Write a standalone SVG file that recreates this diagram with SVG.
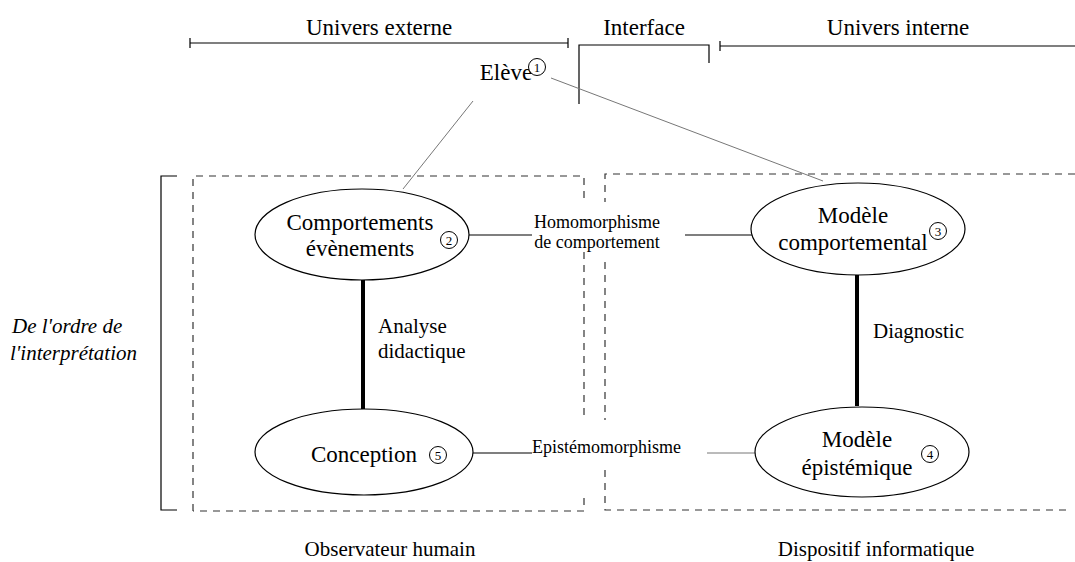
<svg xmlns="http://www.w3.org/2000/svg" width="1075" height="562" viewBox="0 0 1075 562">
<style>
text{font-family:"Liberation Serif","Times New Roman",serif;fill:#000}
.h{font-size:23px;text-anchor:middle}
.n{font-size:23px;text-anchor:middle}
.lab{font-size:18px}
.bot{font-size:21px;text-anchor:middle}
.ax{font-size:21px}
.num{font-size:13px;text-anchor:middle}
.ell{fill:#fff;stroke:#000;stroke-width:1.2}
.nc{fill:#fff;stroke:#000;stroke-width:1}
.dash{fill:none;stroke:#333;stroke-width:1.2;stroke-dasharray:7,6}
.thin{stroke:#000;stroke-width:1.2;fill:none}
.gray{stroke:#777;stroke-width:1;fill:none}
.thick{stroke:#000;stroke-width:4;fill:none}
</style>
<rect width="1075" height="562" fill="#fff"/>
<g id="headers">
<text class="h" x="379" y="35">Univers externe</text>
<path class="thin" d="M190 43H568M190 38V48M568 38V48"/>
<text class="h" x="644" y="35">Interface</text>
<path class="thin" d="M579 104V45H709V63"/>
<text class="h" x="898" y="35">Univers interne</text>
<path class="thin" d="M720 46H1075M720 41V51"/>
</g>
<g id="frames">
<path class="thin" d="M177 176H161V510H177"/>
<path class="dash" d="M193 511V176H584V203M584 252V421M584 498V511H193"/>
<path class="dash" d="M1075 174H605V202M605 262V420M605 470V510H1068"/>
<text class="ax" x="12" y="333" font-style="italic">De l'ordre de</text>
<text class="ax" x="10" y="360" font-style="italic">l'interprétation</text>
<text class="bot" x="390" y="556">Observateur humain</text>
<text class="bot" x="876" y="556">Dispositif informatique</text>
</g>
<g id="connectors">
<line class="gray" x1="473" y1="101" x2="403" y2="189"/>
<line class="gray" x1="551" y1="78" x2="823" y2="181"/>
<line class="thin" x1="469" y1="235" x2="532" y2="235"/>
<line class="thin" x1="685" y1="235" x2="752" y2="235"/>
<line class="thin" x1="473" y1="453" x2="532" y2="453"/>
<line class="gray" x1="707" y1="453" x2="756" y2="453"/>
<line class="thick" x1="363" y1="280" x2="363" y2="409"/>
<line class="thick" x1="857" y1="275" x2="857" y2="406"/>
<text class="lab" x="597" y="228" text-anchor="middle">Homomorphisme</text>
<text class="lab" x="597" y="248" text-anchor="middle">de comportement</text>
<text class="lab" x="532" y="453">Epistémomorphisme</text>
<text class="ax" x="378" y="333">Analyse</text>
<text class="ax" x="378" y="358">didactique</text>
<text class="ax" x="873" y="338">Diagnostic</text>
</g>
<g id="eleve">
<text class="n" x="506" y="80">Elève</text>
<circle class="nc" cx="537" cy="67" r="8.5"/>
<text class="num" x="537" y="71.5">1</text>
</g>
<g id="comportements">
<ellipse class="ell" cx="362" cy="234.5" rx="107" ry="45.5"/>
<text class="n" x="360" y="230">Comportements</text>
<text class="n" x="360" y="256">évènements</text>
<circle class="nc" cx="449" cy="240" r="8.5"/>
<text class="num" x="449" y="244.5">2</text>
</g>
<g id="modele-comportemental">
<ellipse class="ell" cx="858" cy="229" rx="107" ry="46"/>
<text class="n" x="853" y="223">Modèle</text>
<text class="n" x="853" y="250">comportemental</text>
<circle class="nc" cx="938" cy="231" r="8.5"/>
<text class="num" x="938" y="235.5">3</text>
</g>
<g id="conception">
<ellipse class="ell" cx="364" cy="452" rx="109" ry="43"/>
<text class="n" x="364" y="462">Conception</text>
<circle class="nc" cx="438" cy="455" r="8.5"/>
<text class="num" x="438" y="459.5">5</text>
</g>
<g id="modele-epistemique">
<ellipse class="ell" cx="862" cy="452" rx="107" ry="45"/>
<text class="n" x="857" y="447">Modèle</text>
<text class="n" x="857" y="475">épistémique</text>
<circle class="nc" cx="930" cy="454" r="8.5"/>
<text class="num" x="930" y="458.5">4</text>
</g>
</svg>
